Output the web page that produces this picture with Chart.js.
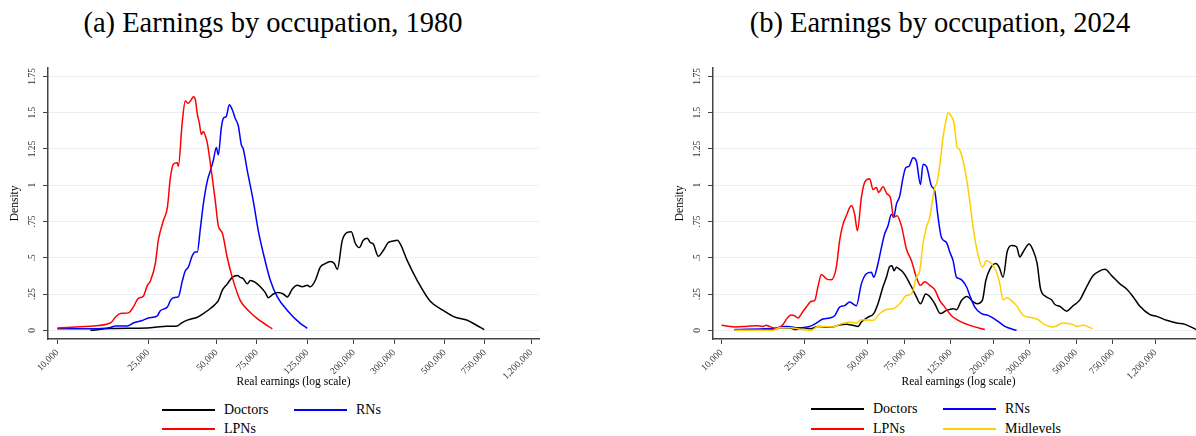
<!DOCTYPE html>
<html>
<head>
<meta charset="utf-8">
<script src="https://cdn.jsdelivr.net/npm/chart.js@4.4.1/dist/chart.umd.min.js"></script>
<style>
html, body { margin: 0; padding: 0; width: 1196px; height: 436px; overflow: hidden; background: #fff; }
body { position: relative; font-family: "Liberation Serif", serif; color: #000; }
.title { position: absolute; top: 9px; width: 546px; text-align: center; font-size: 28.5px; line-height: 28px; white-space: nowrap; }
.wrap { position: absolute; top: 60px; width: 546px; height: 335px; }
.key { position: absolute; height: 16px; font-size: 14px; line-height: 16px; white-space: nowrap; }
.key i { position: absolute; left: 0; top: 7px; width: 53px; height: 1.6px; }
.key span { position: absolute; left: 62px; top: 0; }
</style>
</head>
<body>
<div class="title" style="left:0">(a) Earnings by occupation, 1980</div>
<div class="title" style="left:667px">(b) Earnings by occupation, 2024</div>
<div class="wrap" style="left:0"><canvas id="c1980" width="546" height="335"></canvas></div>
<div class="wrap" style="left:665px"><canvas id="c2024" width="546" height="335"></canvas></div>
<div id="keys"></div>
<script>
// tick labels
var yTicks = [0, .25, .5, .75, 1, 1.25, 1.5, 1.75];
var xTicks = [10000, 25000, 50000, 75000, 125000, 200000, 300000, 500000, 750000, 1200000];

// 1980
var doc80Earn = [13950, 17080, 24820, 29170, 33600, 34630, 37170, 41120, 43690, 46910, 49320, 50840, 52930, 55670, 58530, 61580, 63480, 65430, 68120, 70230, 73860, 77710, 81730, 84240, 88600, 93180, 98000, 102050, 107320, 112880, 118740, 124890, 128720, 135370, 142370, 149740, 157560, 164040, 169100, 177830, 187030, 194760, 202770, 211130, 219840, 228870, 235920, 243220, 255800, 269030, 282990, 297640, 309880, 319430, 342830, 379230, 432500, 493200, 556700, 628300, 681300, 746200];
var doc80Dens = [0, .012, .016, .027, .03, .045, .07, .09, .115, .15, .18, .205, .275, .32, .365, .377, .365, .355, .32, .343, .33, .30, .26, .225, .25, .26, .25, .23, .285, .31, .30, .31, .30, .343, .435, .46, .475, .46, .42, .62, .675, .68, .60, .57, .62, .635, .605, .595, .51, .55, .605, .615, .62, .595, .48, .343, .20, .137, .09, .069, .04, .005];

var rn80Earn = [10000, 13950, 17080, 17970, 20280, 21540, 23840, 25070, 27460, 28300, 30380, 31310, 32270, 33940, 35340, 36430, 37550, 39090, 40310, 41120, 42390, 43690, 45490, 46910, 48330, 49820, 50840, 52400, 53470, 55110, 56810, 58530, 60350, 62210, 64120, 65430, 68120, 72390, 76150, 80100, 85960, 92250, 102050, 116360, 124890];
var rn80Dens = [.01, .01, .02, .03, .03, .05, .07, .085, .10, .135, .16, .205, .225, .23, .34, .41, .435, .515, .54, .54, .70, .87, 1.03, 1.10, 1.17, 1.26, 1.21, 1.395, 1.46, 1.475, 1.555, 1.52, 1.46, 1.41, 1.28, 1.25, 1.10, .89, .685, .53, .345, .23, .137, .048, .014];

var lpn80Earn = [10000, 13270, 17080, 17970, 18890, 20490, 21540, 22660, 23840, 24820, 25580, 26900, 27730, 29170, 30380, 31310, 32270, 33600, 33940, 35340, 36430, 37550, 38710, 39500, 40310, 41120, 41960, 42820, 43690, 44580, 45490, 47840, 49320, 50840, 52930, 55670, 58530, 63480, 68820, 75380, 87700];
var lpn80Dens = [.016, .027, .05, .09, .115, .12, .16, .22, .235, .31, .34, .46, .62, .755, .845, 1.05, 1.145, 1.155, 1.13, 1.44, 1.58, 1.565, 1.59, 1.61, 1.59, 1.49, 1.43, 1.35, 1.37, 1.34, 1.29, 1.05, .89, .72, .67, .50, .365, .205, .137, .08, .01];

// 2024
var doc24Earn = [11540, 17620, 18970, 21190, 22820, 24550, 26930, 28970, 31780, 34180, 36130, 39630, 42630, 45050, 46770, 50310, 53580, 56190, 59380, 61650, 63940, 65580, 67050, 68850, 71400, 74040, 76890, 81250, 85870, 89750, 95140, 99450, 105100, 111920, 119610, 128650, 133570, 141140, 150170, 159400, 167720, 178010, 184610, 192950, 206140, 213800, 223470, 233530, 245160, 259080, 268710, 278680, 297800, 311250, 325270, 337680, 358100, 381340, 395480, 417930, 450000, 484000, 521200, 561400, 603700, 650100, 687000, 739900, 810800, 873000, 939100, 1011000, 1129000, 1216000, 1358000, 1516000, 1662000, 1877000];
var doc24Dens = [0, .005, .018, .016, .005, .018, .011, .027, .023, .023, .034, .041, .034, .027, .057, .09, .115, .183, .30, .365, .44, .445, .41, .435, .42, .40, .365, .30, .23, .183, .25, .233, .183, .115, .137, .149, .142, .205, .233, .20, .183, .21, .343, .42, .46, .435, .365, .54, .585, .576, .505, .54, .595, .55, .46, .285, .233, .21, .178, .165, .132, .17, .21, .30, .377, .41, .42, .377, .32, .285, .23, .165, .108, .096, .069, .05, .041, .005];

var rn24Earn = [11540, 16990, 18300, 19680, 20800, 22820, 26430, 28460, 30620, 32960, 34830, 36810, 38900, 41100, 44260, 46770, 49430, 52240, 53580, 56190, 58340, 60500, 62750, 65150, 66830, 68850, 71400, 74040, 76290, 79130, 82700, 85870, 89750, 92360, 95890, 101340, 105100, 108990, 113160, 119610, 124050, 128650, 133570, 138530, 149170, 154700, 163490, 176060, 189340, 207760, 227680, 259080];
var rn24Dens = [.005, .012, .016, .027, .027, .018, .027, .05, .078, .085, .10, .16, .17, .195, .17, .32, .39, .40, .365, .46, .57, .665, .72, .80, .78, .87, .925, 1.05, 1.12, 1.13, 1.19, 1.165, 1.005, 1.145, 1.13, .995, .96, .78, .64, .605, .54, .48, .365, .355, .30, .24, .16, .115, .103, .069, .027, 0];

var lpn24Earn = [10000, 11760, 13140, 14670, 15780, 16380, 16990, 18300, 19680, 20800, 21600, 22390, 23220, 24550, 25480, 26930, 27930, 28970, 30080, 31780, 33580, 35490, 36810, 38180, 39630, 41880, 43430, 44750, 46770, 48510, 51260, 53170, 55210, 56620, 59380, 62060, 64430, 66830, 69310, 72750, 76890, 81250, 85870, 89750, 94110, 99450, 105100, 111070, 117370, 126410, 135940, 154700, 182580];
var lpn24Dens = [.034, .023, .027, .032, .027, .034, .027, .011, .04, .09, .105, .10, .085, .13, .16, .20, .205, .30, .385, .355, .348, .435, .62, .73, .79, .86, .80, .686, .915, 1.02, 1.045, .97, .985, .95, .99, .94, .915, .78, .79, .72, .56, .48, .365, .31, .335, .31, .28, .205, .16, .10, .069, .034, .005];

var mid24Earn = [11540, 17620, 18970, 21190, 24550, 26930, 28970, 31780, 34180, 36810, 41100, 44260, 46770, 53170, 57260, 61650, 66310, 71400, 76890, 81250, 85870, 89050, 92360, 95890, 99450, 105100, 107790, 111070, 115190, 118680, 121750, 126410, 130080, 134440, 137450, 141140, 148030, 154700, 160460, 167720, 178010, 186020, 196590, 207760, 215440, 223470, 233530, 245160, 259080, 278680, 300060, 328860, 347540, 388160, 433440, 484000, 502800, 540700, 599800];
var mid24Dens = [0, 0, .018, .018, .005, 0, .027, .027, .023, .041, .057, .05, .073, .069, .115, .144, .149, .183, .24, .25, .365, .41, .60, .71, .78, .985, 1.02, 1.14, 1.33, 1.44, 1.50, 1.475, 1.43, 1.26, 1.25, 1.21, 1.075, .89, .71, .55, .435, .48, .46, .40, .32, .21, .225, .205, .17, .103, .09, .073, .046, .023, .05, .039, .027, .034, .011];

var colors = { Doctors: '#000000', RNs: '#0000ff', LPNs: '#ff0000', Midlevels: '#ffd000' };

function pts(earn, dens) {
	return earn.map(function(v, i) { return { x: v, y: dens[i] }; });
}

function withCommas(v) {
	return String(v).replace(/\B(?=(\d{3})+(?!\d))/g, ',');
}

var serif = 'Liberation Serif';

function makeChart(id, series, xMax) {
	var sets = series.map(function(s) {
		return {
			label: s.label,
			data: pts(s.earn, s.dens),
			borderColor: colors[s.label],
			backgroundColor: colors[s.label],
			borderWidth: 1.5,
			pointRadius: 0,
			fill: false,
			cubicInterpolationMode: 'monotone'
		};
	});

	return new Chart(document.getElementById(id), {
		type: 'line',
		data: { datasets: sets },
		options: {
			responsive: false,
			animation: false,
			devicePixelRatio: 1,
			layout: { padding: { top: 6, right: 7, left: 0, bottom: 0 } },
			plugins: { legend: { display: false }, tooltip: { enabled: false } },
			scales: {
				x: {
					type: 'logarithmic',
					min: 9100,
					max: xMax,
					afterBuildTicks: function(s) { s.ticks = xTicks.map(function(v) { return { value: v }; }); },
					afterFit: function(s) { s.height = 56; },
					ticks: {
						autoSkip: false, minRotation: 45, maxRotation: 45, padding: 3,
						color: '#333', font: { family: serif, size: 9.5 },
						callback: function(v) { return withCommas(v); }
					},
					grid: { drawOnChartArea: false, tickLength: 5, tickColor: '#444' },
					border: { color: '#444', width: 1.5 },
					title: {
						display: true, text: 'Real earnings (log scale)', color: '#000',
						font: { family: serif, size: 11.5 }, padding: { top: 0, bottom: 6 }
					}
				},
				y: {
					min: -0.06,
					max: 1.81,
					afterBuildTicks: function(s) { s.ticks = yTicks.map(function(v) { return { value: v }; }); },
					afterFit: function(s) { s.width = 48; },
					ticks: {
						minRotation: 90, maxRotation: 90, crossAlign: 'center', padding: 2,
						color: '#333', font: { family: serif, size: 9.5 },
						callback: function(v) { return v === 0 ? '0' : String(v).replace(/^0\./, '.'); }
					},
					grid: { color: '#e8f0f3', lineWidth: 1, tickLength: 5, tickColor: '#444' },
					border: { color: '#444', width: 1.5 },
					title: {
						display: true, text: 'Density', color: '#000',
						font: { family: serif, size: 11.5 }, padding: { top: 8, bottom: 0 }
					}
				}
			}
		}
	});
}

// later entries are drawn first, so the first one sits on top
makeChart('c1980', [
	{ label: 'LPNs', earn: lpn80Earn, dens: lpn80Dens },
	{ label: 'RNs', earn: rn80Earn, dens: rn80Dens },
	{ label: 'Doctors', earn: doc80Earn, dens: doc80Dens }
], 1297000);

makeChart('c2024', [
	{ label: 'Midlevels', earn: mid24Earn, dens: mid24Dens },
	{ label: 'LPNs', earn: lpn24Earn, dens: lpn24Dens },
	{ label: 'RNs', earn: rn24Earn, dens: rn24Dens },
	{ label: 'Doctors', earn: doc24Earn, dens: doc24Dens }
], 2050000);

// legends, two columns
function addKey(label, left, top) {
	var d = document.createElement('div');
	d.className = 'key';
	d.style.left = left + 'px';
	d.style.top = top + 'px';
	d.innerHTML = '<i style="background:' + colors[label] + '"></i><span>' + label + '</span>';
	document.getElementById('keys').appendChild(d);
}
addKey('Doctors', 162, 402);
addKey('RNs', 294, 402);
addKey('LPNs', 162, 421);
addKey('Doctors', 811, 401);
addKey('RNs', 943, 401);
addKey('LPNs', 811, 421);
addKey('Midlevels', 943, 421);
</script>
</body>
</html>
